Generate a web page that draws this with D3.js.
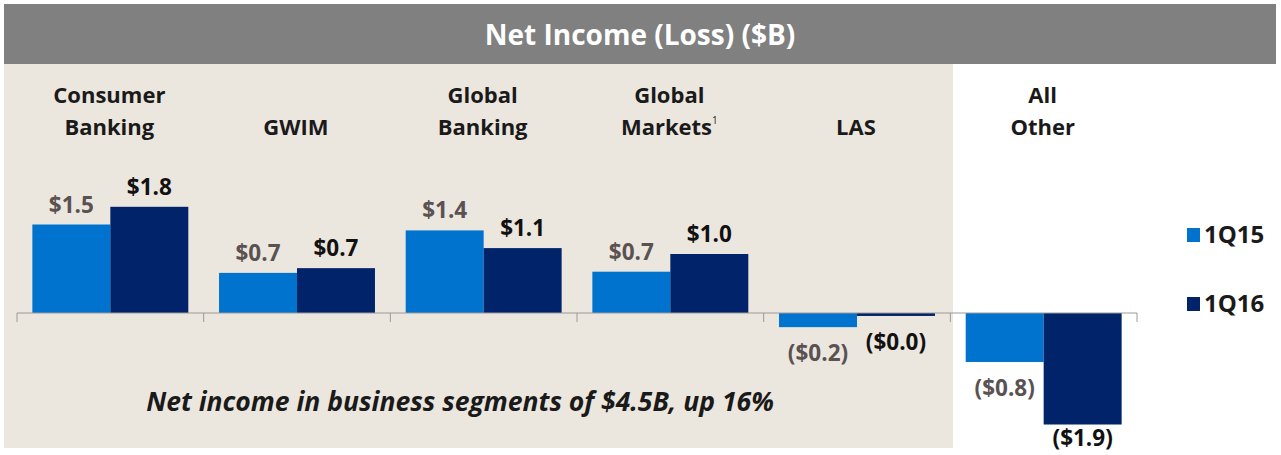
<!DOCTYPE html>
<html lang="en">
<head>
    <meta charset="UTF-8">
    <script src="https://d3js.org/d3.v7.min.js"></script>
    <style>
        body { margin: 0; background: #fff; }
        text { font-family: "Open Sans", Lato, sans-serif; font-weight: bold; }
    </style>
</head>
<body>
<div id="chart"></div>
<script>
    // segments and values ($B)
    var categories = ["Consumer Banking", "GWIM", "Global Banking", "Global Markets", "LAS", "All Other"];
    var catLines = [["Consumer", "Banking"], ["", "GWIM"], ["Global", "Banking"], ["Global", "Markets"], ["", "LAS"], ["All", "Other"]];
    var series = ["1Q15", "1Q16"];
    var q115 = [1.5, 0.68, 1.4, 0.7, -0.24, -0.83];
    var q116 = [1.8, 0.76, 1.1, 1.0, -0.05, -1.89];
    var labels115 = ["$1.5", "$0.7", "$1.4", "$0.7", "($0.2)", "($0.8)"];
    var labels116 = ["$1.8", "$0.7", "$1.1", "$1.0", "($0.0)", "($1.9)"];

    var colors = { "1Q15": "#0073CF", "1Q16": "#00236A" };
    var labelColors = { "1Q15": "#5A5252", "1Q16": "#111111" };

    var width = 1281, height = 455;

    var svg = d3.select("#chart")
        .append("svg")
        .attr("width", width)
        .attr("height", height);

    // beige panel behind the business segments
    svg.append("rect")
        .attr("x", 4).attr("y", 63)
        .attr("width", 949).attr("height", 385)
        .style("fill", "#ECE7DE");

    // title bar
    svg.append("rect")
        .attr("x", 4).attr("y", 4)
        .attr("width", 1272).attr("height", 60)
        .style("fill", "#808080");
    svg.append("text")
        .attr("x", 640).attr("y", 45)
        .attr("text-anchor", "middle")
        .style("font-size", "28px")
        .style("fill", "#fff")
        .text("Net Income (Loss) ($B)");

    var x0 = d3.scaleBand()
        .domain(categories)
        .range([17, 1137]);

    var x1 = d3.scaleBand()
        .domain(series)
        .range([0, x0.bandwidth()])
        .paddingInner(0)
        .paddingOuter(0.197);

    var y = d3.scaleLinear()
        .domain([-2, 2])
        .range([431, 195]);

    var data = categories.map(function (c, i) {
        return {
            cat: c,
            vals: [
                { s: "1Q15", v: q115[i], label: labels115[i] },
                { s: "1Q16", v: q116[i], label: labels116[i] }
            ]
        };
    });

    var groups = svg.selectAll("g.cat")
        .data(data)
        .enter()
        .append("g")
        .attr("class", "cat")
        .attr("transform", function (d) { return "translate(" + x0(d.cat) + ",0)"; });

    groups.selectAll("rect")
        .data(function (d) { return d.vals; })
        .enter()
        .append("rect")
        .attr("x", function (d) { return x1(d.s); })
        .attr("width", x1.bandwidth())
        .attr("y", function (d) { return y(Math.max(0, d.v)); })
        .attr("height", function (d) { return Math.abs(y(d.v) - y(0)); })
        .style("fill", function (d) { return colors[d.s]; });

    groups.selectAll("text.val")
        .data(function (d) { return d.vals; })
        .enter()
        .append("text")
        .attr("class", "val")
        .attr("x", function (d) { return x1(d.s) + x1.bandwidth() / 2; })
        .attr("y", function (d) {
            return d.v >= 0 ? y(d.v) - 12 : Math.min(y(d.v) + 34, 446);
        })
        .attr("text-anchor", "middle")
        .style("font-size", "22.5px")
        .style("fill", function (d) { return labelColors[d.s]; })
        .text(function (d) { return d.label; });

    // category names
    groups.each(function (d, i) {
        var t = d3.select(this).append("text")
            .attr("text-anchor", "middle")
            .style("font-size", "22px")
            .style("fill", "#1a1a1a");
        t.append("tspan")
            .attr("x", x0.bandwidth() / 2 - 1).attr("y", 103)
            .text(catLines[i][0]);
        t.append("tspan")
            .attr("x", x0.bandwidth() / 2 - 1).attr("y", 135)
            .text(catLines[i][1]);
        if (d.cat === "Global Markets") {
            t.append("tspan")
                .attr("dy", -11)
                .style("font-size", "10px")
                .style("font-weight", "normal")
                .text("1");
        }
    });

    // zero axis with category ticks
    var axis = d3.axisBottom(x0)
        .tickValues(categories)
        .tickSize(9)
        .tickFormat("");
    var axG = svg.append("g")
        .attr("transform", "translate(0," + y(0) + ")")
        .call(axis);
    axG.select(".domain").attr("d", "M17,9V0H1137V9").style("stroke", "#9a9a9a").style("fill", "none");
    axG.selectAll(".tick line")
        .attr("transform", "translate(" + (-x0.bandwidth() / 2) + ",0)")
        .style("stroke", "#9a9a9a");
    axG.selectAll(".tick").filter(function (d, i) { return i === 0; }).remove();

    // legend
    var legend = svg.selectAll("g.legend")
        .data(series)
        .enter()
        .append("g")
        .attr("class", "legend")
        .attr("transform", function (d, i) { return "translate(1187," + (228 + i * 69) + ")"; });
    legend.append("rect")
        .attr("width", 13).attr("height", 14)
        .style("fill", function (d) { return colors[d]; });
    legend.append("text")
        .attr("x", 17).attr("y", 15)
        .style("font-size", "24px")
        .style("fill", "#1a1a1a")
        .text(function (d) { return d; });

    // note
    svg.append("text")
        .attr("x", 460).attr("y", 411)
        .attr("text-anchor", "middle")
        .style("font-size", "26.5px")
        .style("font-style", "italic")
        .style("fill", "#1a1a1a")
        .text("Net income in business segments of $4.5B, up 16%");
</script>
</body>
</html>
